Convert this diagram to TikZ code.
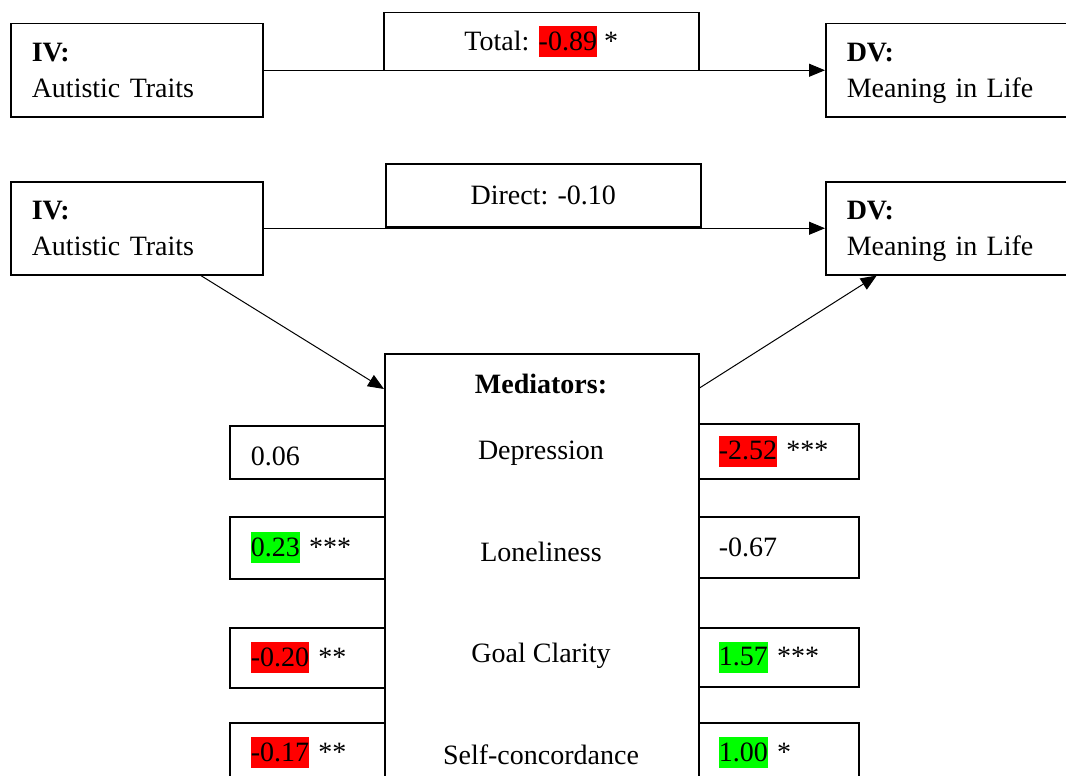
\documentclass[tikz,border=0pt]{standalone}
\usepackage{fontspec}
\setmainfont{Liberation Serif}
\usetikzlibrary{arrows.meta}
\definecolor{hlred}{RGB}{255,0,0}
\definecolor{hlgreen}{RGB}{0,255,0}
\newcommand{\hlbox}[2]{{\setlength{\fboxsep}{0pt}\colorbox{#1}{\rule[-0.24em]{0pt}{1.1em}#2}}}
\begin{document}
\begin{tikzpicture}[x=1pt,y=-1pt,
  font=\fontsize{28}{36}\selectfont,
  box/.style={draw, line width=1.5pt, rectangle, inner ysep=0pt, anchor=north west},
  varbox/.style={box, minimum height=93pt, inner xsep=21pt, align=left},
  effbox/.style={box, inner xsep=0pt, align=center},
  valL/.style={box, text width=113pt, inner xsep=21pt, align=left},
  valR/.style={box, text width=120pt, inner xsep=20pt, align=left},
  medlabel/.style={inner sep=0pt, anchor=center},
  arr/.style={line width=1pt, -{Triangle[length=16pt,width=13pt]}}]
\useasboundingbox (0,0) rectangle (1066,776);
\clip (0,0) rectangle (1066,776);
\fill[white] (0,0) rectangle (1066,776);

% top model
\node[varbox, text width=210pt] (iv1) at (10,23) {\textbf{IV:}\\Autistic Traits};
\node[varbox, text width=218pt] (dv1) at (825,23) {\textbf{DV:}\\\smash{Meaning in Life}};
\draw[arr] (iv1) -- (dv1);
\node[effbox, minimum width=315pt, minimum height=58pt, fill=white] (total) at (383,12) {Total: \hlbox{hlred}{-0.89} *};

% second model
\node[varbox, text width=210pt] (iv2) at (10,181) {\textbf{IV:}\\Autistic Traits};
\node[varbox, text width=218pt] (dv2) at (825,181) {\textbf{DV:}\\\smash{Meaning in Life}};
\draw[arr] (iv2) -- (dv2);
\node[effbox, minimum width=315pt, minimum height=63pt, fill=white] (direct) at (385,163) {Direct: -0.10};

% mediators
\node[box, minimum width=314pt, minimum height=470pt] (med) at (384,353) {};
\draw[arr] ([xshift=64pt]iv2.south) -- ([yshift=-36pt]med.north west);
\draw[arr] ([yshift=-35pt]med.north east) -- ([xshift=-79pt]dv2.south);

\node[medlabel] (mtitle) at (541,384) {\textbf{Mediators:}};
\node[medlabel] (m1) at (541,453) {Depression};
\node[medlabel] (m2) at (541,552) {Loneliness};
\node[medlabel] (m3) at (541,656) {Goal Clarity};
\node[medlabel] (m4) at (541,755) {Self-concordance};

% a paths
\node[valL, minimum height=53pt] (a1) at (229,425) {\rule{0pt}{0.95em}0.06};
\node[valL, minimum height=62pt] (a2) at (229,516) {\hlbox{hlgreen}{0.23} ***};
\node[valL, minimum height=60pt] (a3) at (229,627) {\hlbox{hlred}{-0.20} **};
\node[valL, minimum height=60pt] (a4) at (229,722) {\hlbox{hlred}{-0.17} **};

% b paths
\node[valR, minimum height=55pt] (b1) at (698,423) {\hlbox{hlred}{-2.52} ***};
\node[valR, minimum height=61pt] (b2) at (698,516) {-0.67};
\node[valR, minimum height=59pt] (b3) at (698,627) {\hlbox{hlgreen}{1.57} ***};
\node[valR, minimum height=60pt] (b4) at (698,722) {\hlbox{hlgreen}{1.00} *};
\end{tikzpicture}
\end{document}
